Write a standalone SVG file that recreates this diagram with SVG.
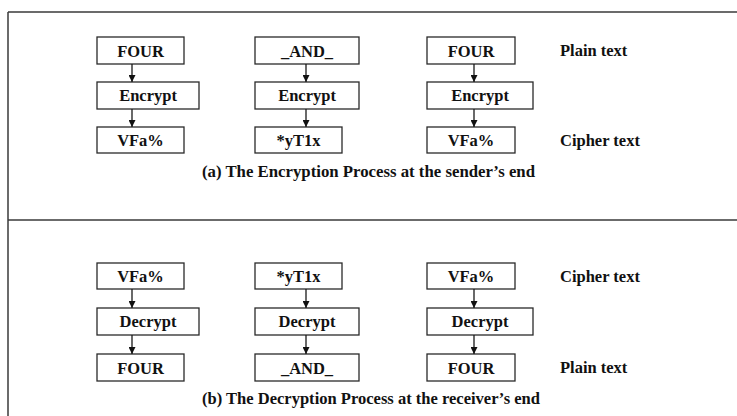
<svg xmlns="http://www.w3.org/2000/svg" width="737" height="416" viewBox="0 0 737 416">
  <defs>
    <style>
      .frame { fill: none; stroke: #3a3a3a; stroke-width: 1.5; }
      .box { fill: #ffffff; stroke: #2a2a2a; stroke-width: 1.3; }
      .lbl { font-family: "Liberation Serif", "Times New Roman", serif; font-weight: bold; font-size: 16.5px; fill: #111; }
      .mid { text-anchor: middle; }
      .edge { stroke: #1a1a1a; stroke-width: 1.3; fill: none; marker-end: url(#head); }
    </style>
    <marker id="head" viewBox="0 0 8 8" refX="8" refY="4" markerWidth="7" markerHeight="7" markerUnits="userSpaceOnUse" orient="auto">
      <path d="M0,0 L8,4 L0,8 z" fill="#111"/>
    </marker>
  </defs>
  <rect width="737" height="416" fill="#ffffff"/>

  <!-- panel frame -->
  <g id="frame">
    <line class="frame" x1="8" y1="12" x2="737" y2="12"/>
    <line class="frame" x1="8" y1="12" x2="8" y2="416"/>
    <line class="frame" x1="8" y1="220" x2="737" y2="220"/>
  </g>

  <!-- (a) encryption -->
  <g id="a-plain1"><rect class="box" x="97" y="37" width="87" height="27"/><text class="lbl mid" x="140.5" y="56.5">FOUR</text></g>
  <g id="a-enc1"><rect class="box" x="97" y="82" width="102" height="27"/><text class="lbl mid" x="148" y="101">Encrypt</text></g>
  <g id="a-ciph1"><rect class="box" x="97" y="127" width="87" height="26"/><text class="lbl mid" x="140.5" y="146">VFa%</text></g>

  <g id="a-plain2"><rect class="box" x="255" y="37" width="104" height="27"/><text class="lbl mid" x="307" y="56.5">_AND_</text></g>
  <g id="a-enc2"><rect class="box" x="255" y="82" width="104" height="27"/><text class="lbl mid" x="307" y="101">Encrypt</text></g>
  <g id="a-ciph2"><rect class="box" x="255" y="127" width="87" height="26"/><text class="lbl mid" x="298.5" y="146">*yT1x</text></g>

  <g id="a-plain3"><rect class="box" x="427" y="37" width="88" height="27"/><text class="lbl mid" x="471" y="56.5">FOUR</text></g>
  <g id="a-enc3"><rect class="box" x="427" y="82" width="106" height="27"/><text class="lbl mid" x="480" y="101">Encrypt</text></g>
  <g id="a-ciph3"><rect class="box" x="427" y="127" width="88" height="26"/><text class="lbl mid" x="471" y="146">VFa%</text></g>

  <g id="a-legend">
    <text class="lbl" x="560" y="56">Plain text</text>
    <text class="lbl" x="560" y="146">Cipher text</text>
    <text class="lbl" x="202" y="177" textLength="333" lengthAdjust="spacingAndGlyphs">(a) The Encryption Process at the sender’s end</text>
  </g>

  <!-- (b) decryption -->
  <g id="b-ciph1"><rect class="box" x="97" y="263" width="87" height="26"/><text class="lbl mid" x="140.5" y="282">VFa%</text></g>
  <g id="b-dec1"><rect class="box" x="97" y="308" width="102" height="27"/><text class="lbl mid" x="148" y="327">Decrypt</text></g>
  <g id="b-plain1"><rect class="box" x="97" y="354" width="87" height="27"/><text class="lbl mid" x="140.5" y="373.5">FOUR</text></g>

  <g id="b-ciph2"><rect class="box" x="255" y="263" width="87" height="26"/><text class="lbl mid" x="298.5" y="282">*yT1x</text></g>
  <g id="b-dec2"><rect class="box" x="255" y="308" width="104" height="27"/><text class="lbl mid" x="307" y="327">Decrypt</text></g>
  <g id="b-plain2"><rect class="box" x="255" y="354" width="104" height="27"/><text class="lbl mid" x="307" y="373.5">_AND_</text></g>

  <g id="b-ciph3"><rect class="box" x="427" y="263" width="88" height="26"/><text class="lbl mid" x="471" y="282">VFa%</text></g>
  <g id="b-dec3"><rect class="box" x="427" y="308" width="106" height="27"/><text class="lbl mid" x="480" y="327">Decrypt</text></g>
  <g id="b-plain3"><rect class="box" x="427" y="354" width="88" height="27"/><text class="lbl mid" x="471" y="373.5">FOUR</text></g>

  <g id="b-legend">
    <text class="lbl" x="560" y="282">Cipher text</text>
    <text class="lbl" x="560" y="373">Plain text</text>
    <text class="lbl" x="202" y="404" textLength="338" lengthAdjust="spacingAndGlyphs">(b) The Decryption Process at the receiver’s end</text>
  </g>

  <!-- connectors -->
  <g id="connectors">
    <line class="edge" x1="132" y1="64" x2="132" y2="82"/>
    <line class="edge" x1="132" y1="109" x2="132" y2="127"/>
    <line class="edge" x1="306" y1="64" x2="306" y2="82"/>
    <line class="edge" x1="306" y1="109" x2="306" y2="127"/>
    <line class="edge" x1="474" y1="64" x2="474" y2="82"/>
    <line class="edge" x1="474" y1="109" x2="474" y2="127"/>
    <line class="edge" x1="132" y1="289" x2="132" y2="308"/>
    <line class="edge" x1="132" y1="335" x2="132" y2="354"/>
    <line class="edge" x1="306" y1="289" x2="306" y2="308"/>
    <line class="edge" x1="306" y1="335" x2="306" y2="354"/>
    <line class="edge" x1="474" y1="289" x2="474" y2="308"/>
    <line class="edge" x1="474" y1="335" x2="474" y2="354"/>
  </g>
</svg>
